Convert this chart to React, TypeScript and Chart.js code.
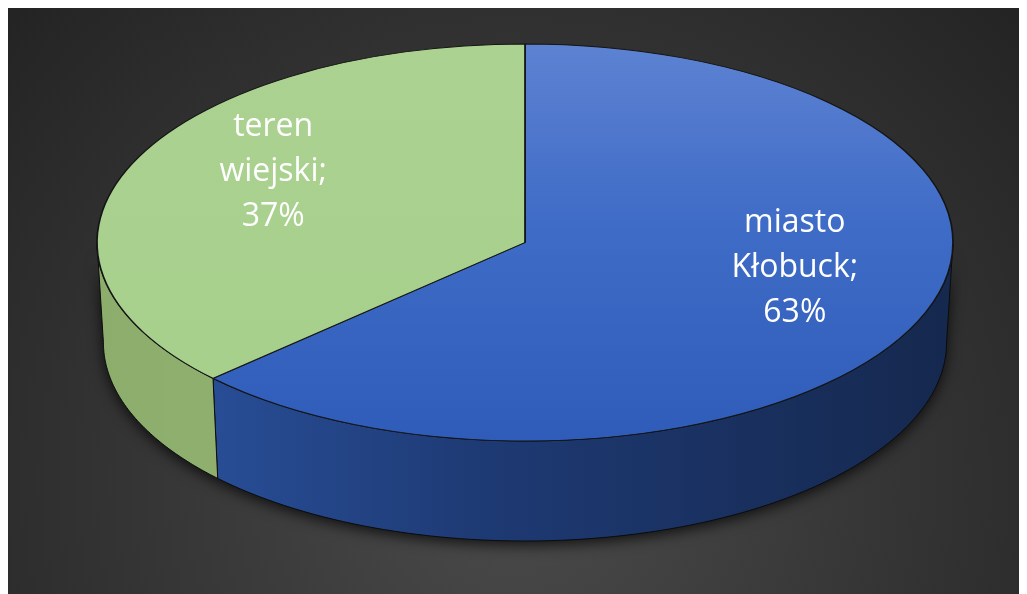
import React, { useEffect, useRef } from "react";
import { Chart, registerables } from "chart.js";

Chart.register(...registerables);

// ---- data ----
const categories = ["miasto Kłobuck", "teren wiejski"];
const shares = [63, 37];
const labelLines = [
  ["miasto", "Kłobuck;", "63%"],
  ["teren", "wiejski;", "37%"],
];

// ---- layout / style ----
const W = 1017;
const H = 600;
const ELL = { cx: 517, cy: 234.5, rx: 428, ry: 198.5, depth: 100, k: 0.985 };
const LABEL = { fx: 0.664, fy: 0.609, dx: 9, dy: -22.5, lineGap: 45 };
const topStops = [
  [
    [0, "#5D82D2"],
    [0.45, "#3F6CC7"],
    [1, "#2E5CB8"],
  ],
  [
    [0, "#ABD290"],
    [1, "#A7CF8C"],
  ],
];
const sideStops = [
  [
    [0, "#2C55A3"],
    [0.45, "#1E3A74"],
    [1, "#15284E"],
  ],
  [
    [0, "#8DAD6D"],
    [1, "#9CBD7D"],
  ],
];

function wallPath(ctx: CanvasRenderingContext2D, s: number, e: number) {
  const n = 90;
  ctx.beginPath();
  for (let i = 0; i <= n; i++) {
    const t = s + ((e - s) * i) / n;
    const x = ELL.cx + ELL.rx * Math.cos(t);
    const y = ELL.cy + ELL.ry * Math.sin(t);
    if (i === 0) ctx.moveTo(x, y);
    else ctx.lineTo(x, y);
  }
  for (let i = n; i >= 0; i--) {
    const t = s + ((e - s) * i) / n;
    ctx.lineTo(
      ELL.cx + ELL.rx * ELL.k * Math.cos(t),
      ELL.cy + ELL.ry * Math.sin(t) + ELL.depth
    );
  }
  ctx.closePath();
}

function frontRanges(s: number, e: number): [number, number][] {
  const out: [number, number][] = [];
  for (let k = -1; k <= 1; k++) {
    const a = Math.max(s, k * 2 * Math.PI);
    const b = Math.min(e, k * 2 * Math.PI + Math.PI);
    if (b > a) out.push([a, b]);
  }
  return out;
}

export default function App() {
  const ref = useRef<HTMLCanvasElement>(null);

  useEffect(() => {
    document.body.style.overflow = "hidden";
    const canvas = ref.current!;

    const pie3d = {
      id: "pie3d",
      beforeDraw(chart: any) {
        const ctx: CanvasRenderingContext2D = chart.ctx;
        ctx.save();
        const g = ctx.createRadialGradient(505, 470, 0, 505, 470, 680);
        g.addColorStop(0, "#4B4B4B");
        g.addColorStop(0.55, "#353535");
        g.addColorStop(1, "#242424");
        ctx.fillStyle = g;
        ctx.fillRect(0, 0, chart.width, chart.height);
        ctx.restore();
      },
      beforeDatasetsDraw(chart: any) {
        const ctx: CanvasRenderingContext2D = chart.ctx;
        const arcs = chart.getDatasetMeta(0).data;
        // shadow under the whole body
        ctx.save();
        ctx.shadowColor = "rgba(0,0,0,0.75)";
        ctx.shadowBlur = 14;
        ctx.shadowOffsetY = 4;
        ctx.fillStyle = "#111";
        wallPath(ctx, 0, Math.PI);
        ctx.fill();
        ctx.restore();
        // side walls
        arcs.forEach((arc: any, i: number) => {
          frontRanges(arc.startAngle, arc.endAngle).forEach(([a, b]) => {
            ctx.save();
            const g = ctx.createLinearGradient(
              ELL.cx - ELL.rx,
              0,
              ELL.cx + ELL.rx,
              0
            );
            sideStops[i].forEach(([o, c]) => g.addColorStop(o as number, c as string));
            ctx.fillStyle = g;
            wallPath(ctx, a, b);
            ctx.fill();
            ctx.lineWidth = 1;
            ctx.strokeStyle = "#0c0c0c";
            ctx.stroke();
            ctx.restore();
          });
        });
        // squash the pie into the top ellipse
        const a0 = arcs[0];
        const R0 = a0.outerRadius;
        ctx.save();
        ctx.translate(ELL.cx, ELL.cy);
        ctx.scale(ELL.rx / R0, ELL.ry / R0);
        ctx.translate(-a0.x, -a0.y);
      },
      afterDatasetsDraw(chart: any) {
        const ctx: CanvasRenderingContext2D = chart.ctx;
        ctx.restore();
        const arcs = chart.getDatasetMeta(0).data;
        ctx.save();
        ctx.fillStyle = "#FFFFFF";
        ctx.font = "32px 'Open Sans'";
        ctx.textAlign = "center";
        ctx.textBaseline = "middle";
        arcs.forEach((arc: any, i: number) => {
          const mid = (arc.startAngle + arc.endAngle) / 2;
          const px = ELL.cx + ELL.rx * LABEL.fx * Math.cos(mid) + LABEL.dx;
          const py = ELL.cy + ELL.ry * LABEL.fy * Math.sin(mid) + LABEL.dy;
          const lines = labelLines[i];
          lines.forEach((t, j) => {
            ctx.fillText(t, px, py + (j - (lines.length - 1) / 2) * LABEL.lineGap);
          });
        });
        ctx.restore();
      },
    };

    const chart = new Chart(canvas, {
      type: "pie",
      data: {
        labels: categories,
        datasets: [
          {
            data: shares,
            backgroundColor: (c: any) => {
              const ch = c.chart;
              const area = ch.chartArea;
              const i = c.dataIndex ?? 0;
              if (!area) return topStops[i][0][1] as string;
              const g = ch.ctx.createLinearGradient(0, area.top, 0, area.bottom);
              topStops[i].forEach(([o, col]) =>
                g.addColorStop(o as number, col as string)
              );
              return g;
            },
            borderColor: "#151515",
            borderWidth: 1.2,
            hoverOffset: 0,
          },
        ],
      },
      options: {
        responsive: false,
        animation: false,
        events: [],
        layout: { padding: 0 },
        plugins: {
          legend: { display: false },
          tooltip: { enabled: false },
          title: { display: false },
        },
      },
      plugins: [pie3d],
    });

    return () => chart.destroy();
  }, []);

  return (
    <div style={{ width: W, height: H }}>
      <canvas
        ref={ref}
        width={W}
        height={H}
        style={{ display: "block", width: W, height: H }}
      />
    </div>
  );
}
